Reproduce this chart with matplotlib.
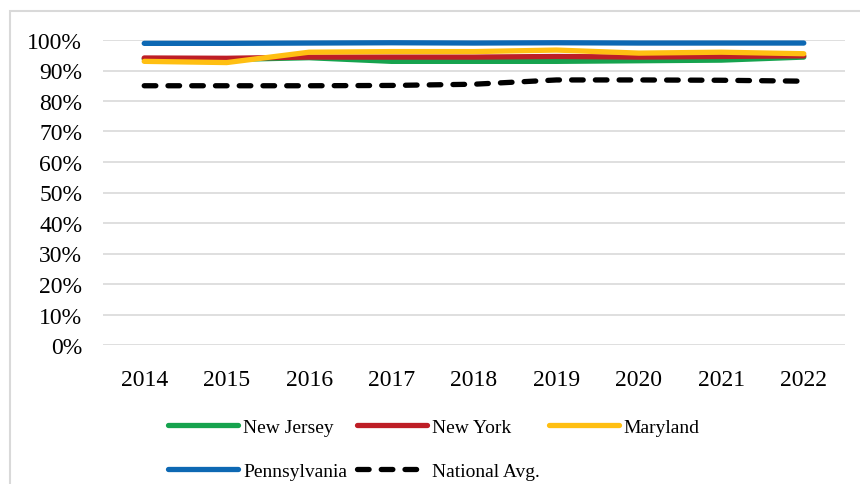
import matplotlib
matplotlib.use("Agg")
import matplotlib.pyplot as plt
from matplotlib.patches import Rectangle
from matplotlib.ticker import PercentFormatter

years = ["2014", "2015", "2016", "2017", "2018", "2019", "2020", "2021", "2022"]
new_jersey = [93.8, 93.6, 94.2, 93.0, 93.0, 93.0, 93.2, 93.4, 94.4]
new_york = [94.1, 94.0, 94.4, 94.4, 94.4, 94.6, 94.4, 94.6, 94.8]
maryland = [93.0, 92.6, 96.0, 96.2, 96.2, 96.7, 95.7, 96.0, 95.5]
pennsylvania = [98.9, 98.9, 99.0, 99.1, 99.0, 99.1, 99.0, 99.0, 99.0]
national_avg = [85.0, 85.0, 85.0, 85.1, 85.5, 86.9, 86.9, 86.8, 86.5]

plt.rcParams["font.family"] = ["Liberation Serif", "DejaVu Serif"]

fig = plt.figure(figsize=(8.6, 4.85), dpi=100)

# light chart-area border
fig.patches.append(Rectangle((10 / 860, -0.2), 1.2, 1 - 12 / 485 + 0.2,
                             transform=fig.transFigure, fill=False,
                             edgecolor="#d9d9d9", linewidth=1.5))

ax = fig.add_axes([103 / 860, 1 - 346 / 485, (845 - 103) / 860, (346 - 41) / 485])

x = range(len(years))
lw = 3.8
common = dict(linewidth=lw, solid_capstyle="round", solid_joinstyle="round", clip_on=False)
ax.plot(x, new_jersey, color="#16A34E", label="New Jersey", **common)
ax.plot(x, new_york, color="#BE1E26", label="New York", **common)
ax.plot(x, maryland, color="#FFBF12", label="Maryland", **common)
ax.plot(x, pennsylvania, color="#0D68B3", label="Pennsylvania", **common)
ax.plot(x, national_avg, color="#000000", label="National Avg.", linewidth=lw,
        dashes=(2.2, 2.3), dash_capstyle="round", clip_on=False)

ax.set_xlim(-0.5, len(years) - 0.5)
ax.set_ylim(0, 100)
ax.set_yticks(range(0, 101, 10))
ax.yaxis.set_major_formatter(PercentFormatter(decimals=0))
ax.set_xticks(list(x))
ax.set_xticklabels(years)
ax.grid(axis="y", color="#d9d9d9", linewidth=1.2)
ax.set_axisbelow(True)
for s in ax.spines.values():
    s.set_visible(False)
ax.tick_params(axis="both", length=0, labelsize=17, colors="#000000")
ax.tick_params(axis="y", pad=15)
ax.tick_params(axis="x", pad=17)

h, l = ax.get_legend_handles_labels()
order = [0, 3, 1, 4, 2]
fig.legend([h[i] for i in order], [l[i] for i in order], ncol=3,
           loc="center", bbox_to_anchor=(434 / 860, 1 - 450 / 485),
           frameon=False, fontsize=14, handlelength=3.6, handletextpad=0.25,
           columnspacing=0.5, labelspacing=1.35, borderpad=0)

fig.savefig("out.png", dpi=100)
